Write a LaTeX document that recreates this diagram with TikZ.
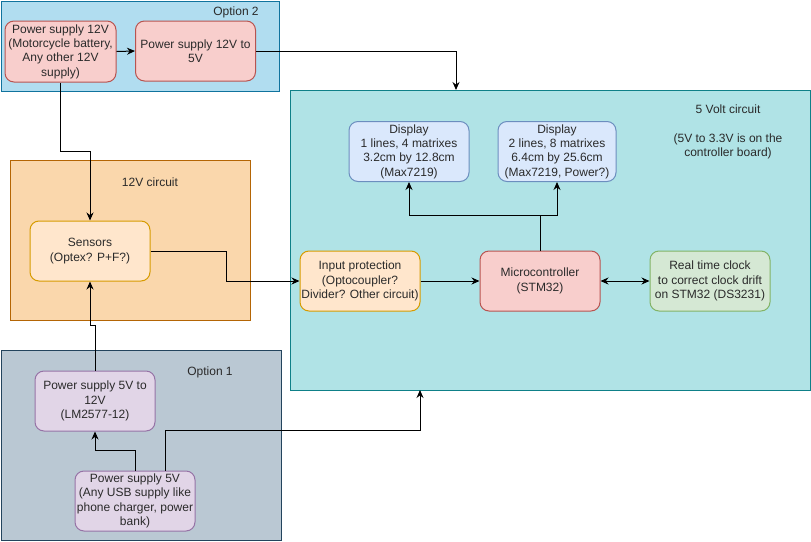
\documentclass[tikz,border=0pt]{standalone}
\usepackage{fontspec}
\setmainfont{Liberation Sans}
\usetikzlibrary{arrows.meta}

% fills and strokes
\definecolor{optTwoFill}{HTML}{B1DDF0}\definecolor{optTwoLine}{HTML}{10739E}
\definecolor{fiveFill}{HTML}{B0E3E6}\definecolor{fiveLine}{HTML}{0E8088}
\definecolor{twelveFill}{HTML}{FAD7AC}\definecolor{twelveLine}{HTML}{B46504}
\definecolor{optOneFill}{HTML}{BAC8D3}\definecolor{optOneLine}{HTML}{23445D}
\definecolor{redFill}{HTML}{F8CECC}\definecolor{redLine}{HTML}{B85450}
\definecolor{blueFill}{HTML}{DAE8FC}\definecolor{blueLine}{HTML}{6C8EBF}
\definecolor{orangeFill}{HTML}{FFE6CC}\definecolor{orangeLine}{HTML}{D79B00}
\definecolor{greenFill}{HTML}{D5E8D4}\definecolor{greenLine}{HTML}{82B366}
\definecolor{purpleFill}{HTML}{E1D5E7}\definecolor{purpleLine}{HTML}{9673A6}
\definecolor{txt}{HTML}{2A2A2A}

\tikzset{
  group/.style={draw, line width=1pt, inner sep=0pt, anchor=north west},
  grouplabel/.style={text=txt, inner sep=0pt, align=center,
    font=\fontsize{12}{14.4}\selectfont},
  block/.style={draw, line width=1pt, rounded corners=9pt, inner sep=0pt,
    minimum width=120pt, minimum height=60pt, align=center, text=txt,
    font=\fontsize{12}{14.4}\selectfont},
  redbox/.style={block, fill=redFill, draw=redLine},
  bluebox/.style={block, fill=blueFill, draw=blueLine},
  orangebox/.style={block, fill=orangeFill, draw=orangeLine},
  greenbox/.style={block, fill=greenFill, draw=greenLine},
  purplebox/.style={block, fill=purpleFill, draw=purpleLine},
  wire/.style={draw=black, line width=1pt, -{Stealth[length=8pt,width=7pt]}},
  wire2/.style={draw=black, line width=1pt, {Stealth[length=8pt,width=7pt]}-{Stealth[length=8pt,width=7pt]}},
}

\begin{document}
\begin{tikzpicture}[x=1pt, y=-1pt]
\useasboundingbox (0,0) rectangle (811,541);

% container groups
\node[group, fill=optTwoFill, draw=optTwoLine, minimum width=278pt, minimum height=90pt] (opt2) at (0.5,0.5) {};
\node[group, fill=fiveFill, draw=fiveLine, minimum width=520pt, minimum height=300pt] (v5) at (290,90) {};
\node[group, fill=twelveFill, draw=twelveLine, minimum width=240pt, minimum height=160pt] (v12) at (10,160) {};
\node[group, fill=optOneFill, draw=optOneLine, minimum width=280pt, minimum height=190pt] (opt1) at (0.5,350) {};

\node[grouplabel] (opt2lbl) at (236,12) {Option 2};
\node[grouplabel] (v12lbl) at (150,182) {12V circuit};
\node[grouplabel] (opt1lbl) at (210,372) {Option 1};
\node[grouplabel] (v5lbl) at (728,132) {5 Volt circuit\\[14.4pt](5V to 3.3V is on the\\controller board)};

% blocks
\node[redbox, minimum width=111pt, minimum height=61pt] (ps12) at (60.5,51.5) {Power supply 12V\\(Motorcycle battery,\\Any other 12V\\supply)};
\node[redbox] (ps12to5) at (195.5,51) {Power supply 12V to\\5V};

\node[bluebox] (disp1) at (409,151.5) {Display\\1 lines, 4 matrixes\\3.2cm by 12.8cm\\(Max7219)};
\node[bluebox, minimum width=118pt] (disp2) at (557,151.5) {Display\\2 lines, 8 matrixes\\6.4cm by 25.6cm\\(Max7219, Power?)};

\node[orangebox] (sensors) at (90,251) {Sensors\\(Optex? P+F?)};
\node[orangebox] (inprot) at (360,281) {Input protection\\(Optocoupler?\\Divider? Other circuit)};
\node[redbox] (micro) at (540,281) {Microcontroller\\(STM32)};
\node[greenbox] (rtc) at (710,281) {Real time clock\\to correct clock drift\\on STM32 (DS3231)};

\node[purplebox] (ps5to12) at (95,401) {Power supply 5V to\\12V\\(LM2577-12)};
\node[purplebox] (ps5) at (135,501) {Power supply 5V\\(Any USB supply like\\phone charger, power\\bank)};

% free ends on the 5 V group border
\coordinate (v5top) at (456,90);
\coordinate (v5bot) at (420,390);

% connectors
\draw[wire] (ps12.south) -- ++(0,69) -| (sensors.north);
\draw[wire] (ps12.east) -- (ps12to5.west);
\draw[wire] (ps12to5.east) -| (v5top);
\draw[wire] (sensors.east) -- ++(76,0) |- (inprot.west);
\draw[wire] (inprot.east) -- (micro.west);
\draw[wire2] (micro.east) -- (rtc.west);
\draw[wire] (micro.north) -- ++(0,-35) -| (disp1.south);
\draw[wire] (micro.north) -- ++(0,-35) -| (disp2.south);
\draw[wire] (ps5to12.north) -- ++(0,-45) -| (sensors.south);
\draw[wire] (ps5.north) -- ++(0,-20) -| (ps5to12.south);
\draw[wire] ([xshift=30pt]ps5.north) -- ++(0,-40) -| (v5bot);

\end{tikzpicture}
\end{document}
